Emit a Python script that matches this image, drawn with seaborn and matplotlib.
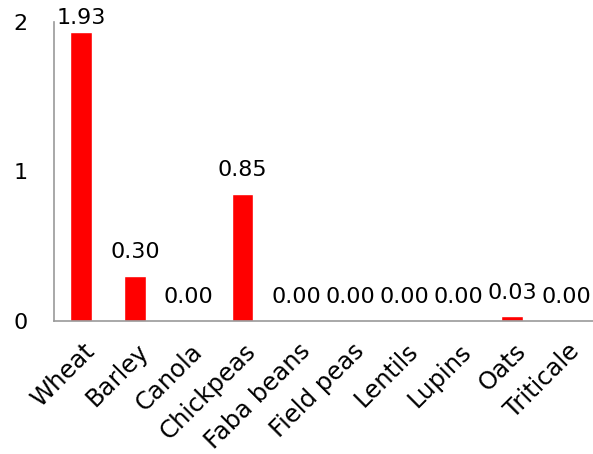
import matplotlib
matplotlib.use("Agg")
import matplotlib.pyplot as plt
import matplotlib.transforms as mtransforms
import seaborn as sns
import pandas as pd

crops = ["Wheat", "Barley", "Canola", "Chickpeas", "Faba beans",
         "Field peas", "Lentils", "Lupins", "Oats", "Triticale"]
values = [1.93, 0.30, 0.00, 0.85, 0.00, 0.00, 0.00, 0.00, 0.03, 0.00]

sns.set_style("white")
plt.rcParams['font.family'] = ['DejaVu Sans']
plt.rcParams['text.color'] = 'black'
plt.rcParams['xtick.color'] = 'black'
plt.rcParams['ytick.color'] = 'black'

df = pd.DataFrame({"crop": crops, "value": values})

fig = plt.figure(figsize=(5.93, 4.54), dpi=100)
ax = fig.add_axes([0.091, 0.293, 0.909, 0.659])
sns.barplot(data=df, x="crop", y="value", color="#ff0000", width=0.4,
            saturation=1, ax=ax)

# value labels (kept inside the plot area at the top, like Excel)
for i, v in enumerate(values):
    ax.text(i, min(v + 0.12, 1.985), f"{v:.2f}", ha="center", va="baseline",
            fontsize=16, color="black")

ax.set_ylim(0, 2)
ax.set_xlim(-0.5, 9.5)
ax.set_yticks([0, 1, 2])
ax.set_xlabel("")
ax.set_ylabel("")
ax.tick_params(axis="y", length=0, pad=19, labelsize=16)
ax.tick_params(axis="x", length=0, pad=0, labelsize=17.5)
offset = mtransforms.ScaledTranslation(1 / 72, -13 / 72, fig.dpi_scale_trans)
for lab in ax.get_xticklabels():
    lab.set_rotation(45)
    lab.set_ha("right")
    lab.set_va("top")
    lab.set_rotation_mode("anchor")
    lab.set_transform(lab.get_transform() + offset)

for s in ["top", "right"]:
    ax.spines[s].set_visible(False)
for s in ["left", "bottom"]:
    ax.spines[s].set_color("#999999")
    ax.spines[s].set_linewidth(1.2)

fig.savefig("out.png", dpi=100)
